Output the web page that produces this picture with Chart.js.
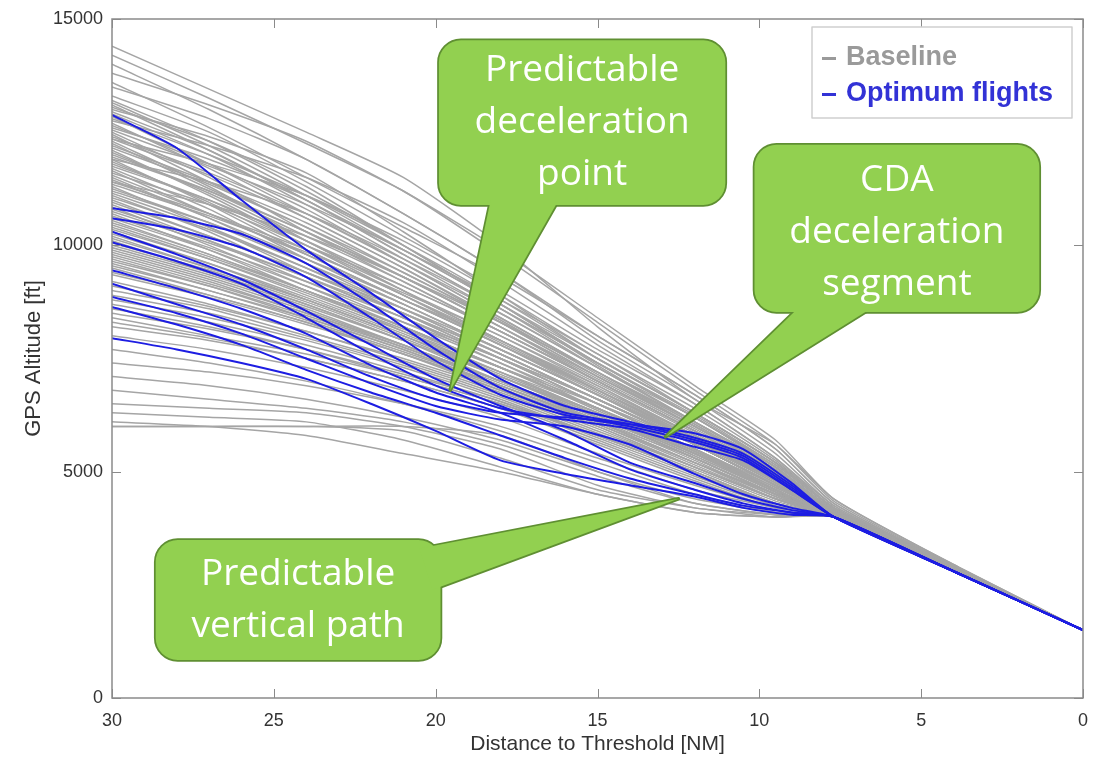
<!DOCTYPE html>
<html>
<head>
<meta charset="utf-8">
<script src="https://cdn.jsdelivr.net/npm/chart.js@4.4.1/dist/chart.umd.min.js"></script>
<style>
  html, body { margin: 0; padding: 0; background: #fff; }
  #wrap { width: 1097px; height: 759px; }
</style>
</head>
<body>
<div id="wrap"><canvas id="chart" width="1097" height="759"></canvas></div>
<script>
// distance to threshold [NM] where the altitudes below were read
const distGray = [30, 27, 24, 21, 18, 15, 12, 9.5, 7.7, 4, 0];
const distBlue = [30, 28, 26, 24, 22, 20, 18, 16, 14, 12, 10.5, 9, 7.7, 4, 0];

// baseline flights, GPS altitude [ft]
const baseline = [
  [14400, 13450, 12500, 11500, 10000, 8200, 6600, 5600, 4400, 2950, 1500],
  [14200, 13250, 12250, 11200, 9800, 8300, 6800, 5600, 4350, 2930, 1500],
  [14000, 13000, 11900, 10700, 9400, 8000, 6700, 5500, 4300, 2920, 1500],
  [13800, 13100, 12300, 11200, 9900, 8400, 6900, 5700, 4400, 2950, 1500],
  [13600, 12600, 11500, 10400, 9300, 8000, 6700, 5500, 4300, 2900, 1500],
  [13500, 12800, 11900, 10700, 9400, 7900, 6600, 5400, 4250, 2900, 1500],
  [13300, 12500, 11400, 10200, 9000, 7700, 6500, 5300, 4200, 2900, 1500],
  [13100, 12100, 11000, 9900, 8800, 7600, 6300, 5200, 4200, 2880, 1500],
  [13000, 12400, 11600, 10300, 8900, 7500, 6300, 5200, 4200, 2880, 1500],
  [12900, 12000, 10900, 9700, 8500, 7300, 6200, 5100, 4150, 2870, 1500],
  [12700, 11700, 10600, 9500, 8300, 7100, 6000, 5000, 4150, 2870, 1500],
  [12600, 11900, 11000, 9800, 8600, 7400, 6200, 5100, 4150, 2870, 1500],
  [12500, 11500, 10300, 9200, 8100, 7000, 5900, 4900, 4100, 2860, 1500],
  [12400, 11600, 10700, 9600, 8400, 7200, 6000, 5000, 4150, 2860, 1500],
  [12300, 11300, 10100, 9000, 7900, 6900, 5800, 4900, 4100, 2860, 1500],
  [12200, 11400, 10500, 9400, 8300, 7100, 6000, 5000, 4100, 2860, 1500],
  [12100, 11100, 10000, 8900, 7800, 6800, 5700, 4800, 4100, 2850, 1500],
  [12000, 11200, 10200, 9200, 8100, 7000, 5900, 4900, 4100, 2850, 1500],
  [11900, 10900, 9800, 8800, 7800, 6700, 5700, 4800, 4050, 2850, 1500],
  [11800, 11000, 10000, 9000, 8000, 6900, 5800, 4900, 4100, 2850, 1500],
  [11700, 10800, 9700, 8700, 7700, 6700, 5600, 4700, 4050, 2850, 1500],
  [11600, 10900, 10000, 9100, 8100, 7000, 5900, 4900, 4100, 2850, 1500],
  [11500, 10600, 9600, 8600, 7600, 6600, 5600, 4700, 4050, 2840, 1500],
  [11400, 10700, 9900, 8900, 7900, 6800, 5800, 4800, 4100, 2840, 1500],
  [11300, 10400, 9400, 8500, 7500, 6500, 5500, 4700, 4050, 2840, 1500],
  [11200, 10500, 9700, 8800, 7800, 6800, 5700, 4800, 4050, 2840, 1500],
  [11100, 10300, 9300, 8400, 7400, 6500, 5500, 4600, 4050, 2840, 1500],
  [11000, 10200, 9400, 8600, 7700, 6700, 5700, 4800, 4050, 2840, 1500],
  [10900, 10100, 9200, 8300, 7400, 6400, 5400, 4600, 4000, 2830, 1500],
  [10800, 10100, 9300, 8500, 7600, 6600, 5600, 4700, 4050, 2830, 1500],
  [10700, 9900, 9000, 8200, 7300, 6400, 5400, 4600, 4000, 2830, 1500],
  [10600, 9900, 9100, 8300, 7500, 6600, 5600, 4700, 4050, 2830, 1500],
  [10500, 9800, 9000, 8100, 7200, 6300, 5400, 4600, 4000, 2830, 1500],
  [10400, 9700, 8900, 8100, 7300, 6500, 5600, 4700, 4050, 2830, 1500],
  [10300, 9600, 8800, 8000, 7100, 6200, 5300, 4500, 4000, 2820, 1500],
  [10200, 9500, 8800, 8000, 7200, 6400, 5500, 4600, 4000, 2820, 1500],
  [10100, 9400, 8700, 7900, 7000, 6200, 5300, 4500, 4000, 2820, 1500],
  [10000, 9400, 8700, 7900, 7100, 6300, 5400, 4600, 4000, 2820, 1500],
  [9900, 9300, 8600, 7800, 7000, 6100, 5200, 4500, 4000, 2820, 1500],
  [9800, 9200, 8500, 7800, 7000, 6200, 5300, 4500, 4000, 2820, 1500],
  [9700, 9100, 8400, 7700, 6900, 6100, 5200, 4400, 4000, 2810, 1500],
  [9600, 9000, 8400, 7700, 6900, 6100, 5300, 4500, 4000, 2810, 1500],
  [9500, 8900, 8300, 7600, 6800, 6000, 5100, 4400, 4000, 2810, 1500],
  [9400, 8900, 8300, 7600, 6900, 6100, 5200, 4500, 4000, 2810, 1500],
  [9200, 8700, 8100, 7500, 6800, 6000, 5100, 4400, 4000, 2810, 1500],
  [9000, 8600, 8000, 7400, 6700, 5900, 5100, 4400, 4000, 2810, 1500],
  [8800, 8400, 7900, 7300, 6600, 5800, 5000, 4300, 4000, 2800, 1500],
  [8600, 8200, 7700, 7100, 6500, 5700, 4900, 4300, 4000, 2800, 1500],
  [8400, 8000, 7600, 7100, 6500, 5800, 5000, 4300, 4000, 2800, 1500],
  [8200, 7900, 7500, 7000, 6400, 5600, 4800, 4200, 4000, 2800, 1500],
  [8000, 7700, 7300, 6800, 6200, 5400, 4700, 4200, 4000, 2800, 1500],
  [7700, 7400, 7000, 6500, 5900, 5200, 4500, 4100, 4000, 2800, 1500],
  [7400, 7200, 6900, 6500, 6000, 5300, 4600, 4200, 4000, 2800, 1500],
  [7100, 6900, 6600, 6200, 5700, 5000, 4400, 4100, 4000, 2800, 1500],
  [6800, 6600, 6400, 6100, 5600, 4900, 4300, 4050, 4000, 2800, 1500],
  [6500, 6400, 6300, 6000, 5500, 4700, 4200, 4050, 4000, 2800, 1500],
  [6300, 6200, 6100, 5700, 5100, 4500, 4100, 4000, 4000, 2800, 1500],
  [6000, 6000, 6000, 6000, 5800, 5000, 4300, 4050, 4000, 2800, 1500],
  [6100, 6000, 5800, 5400, 5000, 4500, 4100, 4000, 4000, 2800, 1500],
  [6000, 6000, 6000, 5900, 5300, 4600, 4200, 4000, 4000, 2800, 1500],
  [12850, 11800, 10700, 9600, 8500, 7300, 6100, 5100, 4150, 2870, 1500],
  [12250, 11250, 10300, 9300, 8200, 7000, 5900, 4950, 4100, 2860, 1500],
  [11650, 10700, 9800, 8800, 7900, 6800, 5750, 4850, 4100, 2850, 1500],
  [11050, 10350, 9500, 8600, 7600, 6600, 5600, 4700, 4050, 2840, 1500],
  [10450, 9750, 9000, 8200, 7300, 6400, 5450, 4600, 4000, 2830, 1500],
  [9850, 9250, 8550, 7800, 7000, 6200, 5300, 4500, 4000, 2820, 1500],
  [13200, 12300, 11200, 10000, 8700, 7400, 6200, 5150, 4200, 2880, 1500],
  [11350, 10650, 9850, 8950, 8000, 6950, 5850, 4850, 4100, 2840, 1500],
  [13150, 12200, 11100, 9900, 8700, 7400, 6200, 5100, 4150, 2870, 1500],
  [13050, 12300, 11300, 10000, 8700, 7350, 6100, 5050, 4150, 2870, 1500],
  [12950, 12100, 11000, 9800, 8600, 7300, 6100, 5050, 4150, 2870, 1500],
  [12800, 12000, 11100, 10000, 8800, 7500, 6300, 5200, 4200, 2880, 1500],
  [12650, 11800, 10800, 9600, 8400, 7200, 6050, 5000, 4150, 2870, 1500],
  [12550, 11750, 10900, 9900, 8700, 7500, 6300, 5200, 4200, 2870, 1500],
  [12450, 11400, 10400, 9300, 8200, 7050, 5950, 4950, 4100, 2860, 1500],
  [12350, 11550, 10600, 9500, 8350, 7150, 6000, 5000, 4100, 2860, 1500],
  [12150, 11350, 10400, 9400, 8300, 7200, 6050, 5000, 4100, 2860, 1500],
  [12050, 11150, 10100, 9000, 7900, 6850, 5800, 4850, 4100, 2850, 1500],
  [11950, 11200, 10300, 9300, 8200, 7100, 6000, 5000, 4100, 2850, 1500],
  [11850, 10950, 9900, 8900, 7850, 6800, 5750, 4800, 4050, 2850, 1500],
  [11750, 11000, 10100, 9100, 8100, 7000, 5900, 4900, 4100, 2850, 1500],
  [11550, 10700, 9800, 8800, 7800, 6750, 5700, 4800, 4050, 2850, 1500],
  [11450, 10600, 9700, 8700, 7700, 6700, 5650, 4750, 4050, 2840, 1500],
  [11250, 10500, 9600, 8700, 7700, 6700, 5700, 4750, 4050, 2840, 1500],
  [11150, 10400, 9500, 8500, 7500, 6500, 5500, 4650, 4050, 2840, 1500],
  [10950, 10200, 9400, 8500, 7600, 6600, 5600, 4700, 4050, 2840, 1500],
  [10850, 10000, 9100, 8200, 7300, 6400, 5450, 4600, 4000, 2830, 1500],
  [10750, 10050, 9300, 8400, 7500, 6500, 5500, 4650, 4050, 2830, 1500],
  [10650, 9950, 9200, 8400, 7500, 6600, 5600, 4700, 4050, 2830, 1500],
  [10550, 9800, 9000, 8200, 7300, 6350, 5400, 4550, 4000, 2830, 1500],
  [10350, 9700, 8950, 8150, 7300, 6400, 5450, 4600, 4000, 2830, 1500],
  [10250, 9600, 8850, 8050, 7200, 6300, 5400, 4550, 4000, 2820, 1500],
  [10150, 9500, 8800, 8000, 7150, 6300, 5350, 4550, 4000, 2820, 1500],
  [10050, 9450, 8750, 7950, 7100, 6250, 5350, 4550, 4000, 2820, 1500],
  [9950, 9350, 8650, 7900, 7100, 6250, 5300, 4500, 4000, 2820, 1500],
  [9750, 9150, 8500, 7750, 6950, 6150, 5250, 4450, 4000, 2820, 1500],
  [9650, 9100, 8450, 7750, 7000, 6200, 5300, 4500, 4000, 2810, 1500],
  [9550, 9000, 8350, 7650, 6900, 6050, 5150, 4400, 4000, 2810, 1500],
  [9350, 8850, 8250, 7600, 6850, 6050, 5200, 4450, 4000, 2810, 1500],
  [9100, 8650, 8100, 7450, 6750, 5950, 5100, 4400, 4000, 2810, 1500],
  [8900, 8500, 7950, 7350, 6650, 5850, 5050, 4350, 4000, 2800, 1500],
  [8700, 8300, 7800, 7200, 6550, 5750, 4950, 4300, 4000, 2800, 1500],
  [8500, 8150, 7700, 7150, 6550, 5800, 5000, 4300, 4000, 2800, 1500],
  [8300, 7950, 7500, 7000, 6400, 5650, 4850, 4250, 4000, 2800, 1500],
  [12750, 12200, 11500, 10500, 9200, 7800, 6500, 5300, 4250, 2890, 1500],
  [12350, 11800, 11100, 10100, 8900, 7600, 6400, 5250, 4200, 2880, 1500],
  [11900, 11400, 10700, 9700, 8600, 7400, 6250, 5150, 4200, 2870, 1500],
  [11400, 10900, 10200, 9300, 8300, 7200, 6100, 5100, 4150, 2860, 1500]
];

// optimum flights, GPS altitude [ft]
const optimum = [
  [12880, 12150, 11000, 9900, 8950, 7950, 7050, 6450, 6100, 5750, 5400, 4700, 4000, 2800, 1500],
  [10820, 10600, 10250, 9600, 8700, 7700, 6850, 6300, 6050, 5700, 5350, 4650, 4000, 2800, 1500],
  [10600, 10350, 9950, 9300, 8400, 7450, 6700, 6250, 6000, 5650, 5300, 4600, 4000, 2800, 1500],
  [10300, 9800, 9250, 8550, 7800, 7050, 6450, 5900, 5200, 4750, 4400, 4150, 4000, 2800, 1500],
  [10070, 9650, 9150, 8400, 7600, 6900, 6400, 6150, 5950, 5550, 5250, 4600, 4000, 2800, 1500],
  [9450, 9050, 8600, 8050, 7350, 6750, 6300, 5700, 5050, 4600, 4300, 4100, 4000, 2800, 1500],
  [8860, 8500, 8050, 7500, 6950, 6450, 6150, 6000, 5600, 4950, 4500, 4200, 4000, 2800, 1500],
  [8640, 8250, 7800, 7250, 6750, 6300, 5800, 5300, 4850, 4500, 4250, 4100, 4000, 2800, 1500],
  [7950, 7700, 7400, 7050, 6500, 5900, 5250, 4950, 4700, 4450, 4200, 4050, 4000, 2800, 1500],
  [9150, 8700, 8250, 7700, 7100, 6600, 6300, 6200, 6050, 5850, 5500, 4750, 4000, 2800, 1500]
];

const xTicks = [30, 25, 20, 15, 10, 5, 0];
const yTicks = [0, 5000, 10000, 15000];
const seriesNames = ['Baseline', 'Optimum flights'];

// callout boxes, anchored in data units (NM, ft)
const callouts = [
  { lines: ['Predictable', 'deceleration', 'point'],
    box: [19.9, 14530, 11.05, 10890], tip: [19.55, 6800], base: [[18.3, 11000], [16.2, 11000]], dy: 0 },
  { lines: ['CDA', 'deceleration', 'segment'],
    box: [10.15, 12220, 1.35, 8530], tip: [12.9, 5770], base: [[8.75, 8650], [6.45, 8650]], dy: 4 },
  { lines: ['Predictable', 'vertical path'],
    box: [28.65, 3490, 19.85, 840], tip: [12.5, 4400], base: [[20.5, 3300], [20.1, 2390]], dy: 0 }
];

const GRAY = '#a5a5a5';
const BLUE = '#1d1de2';

const datasets = [];
optimum.forEach((alt) => {
  datasets.push({
    label: seriesNames[1],
    data: distBlue.map((d, j) => ({ x: d, y: alt[j] })),
    borderColor: BLUE, borderWidth: 2, order: 0
  });
});
baseline.forEach((alt) => {
  datasets.push({
    label: seriesNames[0],
    data: distGray.map((d, j) => ({ x: d, y: alt[j] })),
    borderColor: GRAY, borderWidth: 1.5, order: 1
  });
});

const roundRect = (ctx, x0, y0, x1, y1, r) => {
  ctx.beginPath();
  ctx.moveTo(x0 + r, y0);
  ctx.lineTo(x1 - r, y0);
  ctx.arcTo(x1, y0, x1, y0 + r, r);
  ctx.lineTo(x1, y1 - r);
  ctx.arcTo(x1, y1, x1 - r, y1, r);
  ctx.lineTo(x0 + r, y1);
  ctx.arcTo(x0, y1, x0, y1 - r, r);
  ctx.lineTo(x0, y0 + r);
  ctx.arcTo(x0, y0, x0 + r, y0, r);
  ctx.closePath();
};

const framePlugin = {
  id: 'frame',
  afterDatasetsDraw(chart) {
    const { ctx, chartArea: a, scales: { x, y } } = chart;
    ctx.save();
    ctx.strokeStyle = '#8a8a8a';
    ctx.lineWidth = 1.5;
    ctx.strokeRect(a.left, a.top, a.right - a.left, a.bottom - a.top);
    ctx.lineWidth = 1;
    ctx.beginPath();
    xTicks.forEach(v => {
      const px = Math.round(x.getPixelForValue(v)) + 0.5;
      ctx.moveTo(px, a.bottom); ctx.lineTo(px, a.bottom - 9);
      ctx.moveTo(px, a.top); ctx.lineTo(px, a.top + 9);
    });
    yTicks.forEach(v => {
      const py = Math.round(y.getPixelForValue(v)) + 0.5;
      ctx.moveTo(a.left, py); ctx.lineTo(a.left + 9, py);
      ctx.moveTo(a.right, py); ctx.lineTo(a.right - 9, py);
    });
    ctx.stroke();
    ctx.restore();
  }
};

const calloutPlugin = {
  id: 'callouts',
  afterDraw(chart) {
    const { ctx, scales: { x, y } } = chart;
    const P = (p) => [x.getPixelForValue(p[0]), y.getPixelForValue(p[1])];
    ctx.save();
    callouts.forEach(c => {
      const [bx0, by0] = P([c.box[0], c.box[1]]);
      const [bx1, by1] = P([c.box[2], c.box[3]]);
      const t = P(c.tip), b0 = P(c.base[0]), b1 = P(c.base[1]);
      const tri = () => {
        ctx.beginPath();
        ctx.moveTo(b0[0], b0[1]); ctx.lineTo(t[0], t[1]); ctx.lineTo(b1[0], b1[1]);
        ctx.closePath();
      };
      ctx.strokeStyle = '#5f8f32';
      ctx.lineWidth = 3.5;
      ctx.lineJoin = 'round';
      tri(); ctx.stroke();
      roundRect(ctx, bx0, by0, bx1, by1, 22); ctx.stroke();
      ctx.fillStyle = '#92d050';
      roundRect(ctx, bx0, by0, bx1, by1, 22); ctx.fill();
      tri(); ctx.fill();
      ctx.fillStyle = '#ffffff';
      ctx.font = '37px "Open Sans", sans-serif';
      ctx.textAlign = 'center';
      ctx.textBaseline = 'middle';
      const cx = (bx0 + bx1) / 2, cy = (by0 + by1) / 2 + c.dy;
      const lh = 52;
      c.lines.forEach((s, i) => {
        ctx.fillText(s, cx, cy + (i - (c.lines.length - 1) / 2) * lh);
      });
    });

    // legend box, top right of the plot
    const a = chart.chartArea;
    const lx0 = a.right - 271, ly0 = a.top + 8, lx1 = a.right - 11, ly1 = a.top + 99;
    ctx.fillStyle = '#fff';
    ctx.fillRect(lx0, ly0, lx1 - lx0, ly1 - ly0);
    ctx.strokeStyle = '#cfcfcf';
    ctx.lineWidth = 1.5;
    ctx.strokeRect(lx0, ly0, lx1 - lx0, ly1 - ly0);
    ctx.textAlign = 'left';
    ctx.textBaseline = 'middle';
    ctx.font = 'bold 27px "Liberation Sans", Arial, sans-serif';
    const entries = [[seriesNames[0], '#9a9a9a', ly0 + 31], [seriesNames[1], '#3232d6', ly0 + 67]];
    entries.forEach(([name, col, yy]) => {
      ctx.fillStyle = col;
      ctx.fillRect(lx0 + 10, yy - 1, 14, 3);
      ctx.fillText(name, lx0 + 34, yy);
    });
    ctx.restore();
  }
};

const tickFont = { family: '"Liberation Sans", Arial, sans-serif', size: 18 };

new Chart(document.getElementById('chart'), {
  type: 'line',
  data: { datasets },
  options: {
    responsive: false,
    animation: false,
    events: [],
    layout: { padding: { left: 0, right: 14, top: 19, bottom: 0 } },
    plugins: { legend: { display: false }, tooltip: { enabled: false } },
    elements: { point: { radius: 0 }, line: { tension: 0.2, fill: false } },
    scales: {
      x: {
        type: 'linear', reverse: true, min: 0, max: 30,
        grid: { display: false }, border: { display: false },
        afterBuildTicks: (s) => { s.ticks = xTicks.map(v => ({ value: v })); },
        ticks: { color: '#333', font: tickFont, padding: 4, maxRotation: 0 },
        title: { display: true, text: 'Distance to Threshold [NM]', color: '#333',
                 font: { family: '"Liberation Sans", Arial, sans-serif', size: 21 }, padding: { top: 0, bottom: 2 } },
        afterFit: (s) => { s.height = 61; }
      },
      y: {
        type: 'linear', min: 0, max: 15000,
        grid: { display: false }, border: { display: false },
        afterBuildTicks: (s) => { s.ticks = yTicks.map(v => ({ value: v })); },
        ticks: { color: '#333', font: tickFont, padding: 1, callback: (v) => String(v) },
        title: { display: true, text: 'GPS Altitude [ft]', color: '#333',
                 font: { family: '"Liberation Sans", Arial, sans-serif', size: 22 }, padding: { top: 21, bottom: 0 } },
        afterFit: (s) => { s.width = 112; }
      }
    }
  },
  plugins: [framePlugin, calloutPlugin]
});
</script>
</body>
</html>
